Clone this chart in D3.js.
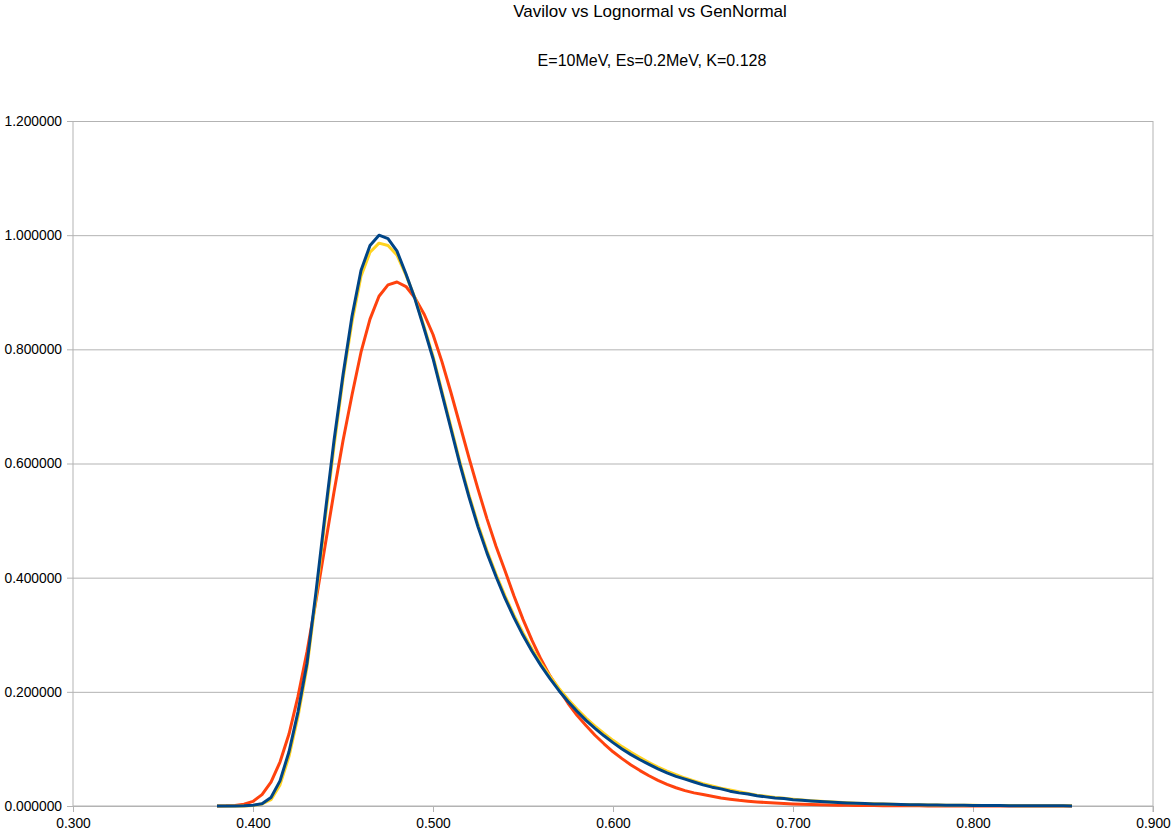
<!DOCTYPE html>
<html>
<head>
<meta charset="utf-8">
<script src="https://cdn.jsdelivr.net/npm/d3@7"></script>
<style>
  body { margin: 0; background: #fff; }
  text { font-family: "Liberation Sans", Arial, sans-serif; fill: #000; }
  .grid line { stroke: #b3b3b3; stroke-width: 1; }
  .line { fill: none; stroke-width: 3; stroke-linejoin: round; }
</style>
</head>
<body>
<div class="chart"></div>
<script>
// energies (MeV) of each sample
var energies = [0.380, 0.385, 0.390, 0.395, 0.400, 0.405, 0.410, 0.415, 0.420, 0.425,
    0.430, 0.435, 0.440, 0.445, 0.450, 0.455, 0.460, 0.465, 0.470, 0.475,
    0.480, 0.485, 0.490, 0.495, 0.500, 0.505, 0.510, 0.515, 0.520, 0.525,
    0.530, 0.535, 0.540, 0.545, 0.550, 0.555, 0.560, 0.565, 0.570, 0.575,
    0.580, 0.585, 0.590, 0.595, 0.600, 0.605, 0.610, 0.615, 0.620, 0.625,
    0.630, 0.635, 0.640, 0.645, 0.650, 0.655, 0.660, 0.665, 0.670, 0.675,
    0.680, 0.685, 0.690, 0.695, 0.700, 0.705, 0.710, 0.715, 0.720, 0.725,
    0.730, 0.735, 0.740, 0.745, 0.750, 0.755, 0.760, 0.765, 0.770, 0.775,
    0.780, 0.785, 0.790, 0.795, 0.800, 0.805, 0.810, 0.815, 0.820, 0.825,
    0.830, 0.835, 0.840, 0.845, 0.850, 0.855];

var vavilov = [0.0000, 0.0000, 0.0001, 0.0004, 0.0015, 0.0040, 0.0150, 0.0440, 0.0950, 0.1650,
    0.2500, 0.3750, 0.5100, 0.6400, 0.7550, 0.8580, 0.9380, 0.9820, 1.0000, 0.9940,
    0.9720, 0.9320, 0.8880, 0.8370, 0.7840, 0.7220, 0.6600, 0.5980, 0.5410, 0.4890,
    0.4430, 0.4020, 0.3640, 0.3300, 0.2990, 0.2710, 0.2460, 0.2230, 0.2020, 0.1830,
    0.1660, 0.1500, 0.1360, 0.1230, 0.1110, 0.1000, 0.0900, 0.0810, 0.0730, 0.0650,
    0.0580, 0.0520, 0.0470, 0.0420, 0.0370, 0.0330, 0.0300, 0.0260, 0.0230, 0.0210,
    0.0180, 0.0160, 0.0140, 0.0130, 0.0110, 0.0100, 0.0088, 0.0078, 0.0069, 0.0061,
    0.0054, 0.0048, 0.0042, 0.0037, 0.0033, 0.0029, 0.0026, 0.0023, 0.0020, 0.0018,
    0.0016, 0.0014, 0.0012, 0.0011, 0.0010, 0.0009, 0.0008, 0.0007, 0.0006, 0.0005,
    0.0005, 0.0004, 0.0004, 0.0003, 0.0003, 0.0002];

var lognormal = [0.0000, 0.0003, 0.0010, 0.0030, 0.0080, 0.0200, 0.0420, 0.0770, 0.1260, 0.1920,
    0.2700, 0.3600, 0.4550, 0.5500, 0.6400, 0.7200, 0.7950, 0.8530, 0.8930, 0.9130,
    0.9180, 0.9100, 0.8900, 0.8620, 0.8260, 0.7780, 0.7240, 0.6670, 0.6100, 0.5550,
    0.5030, 0.4550, 0.4120, 0.3680, 0.3270, 0.2900, 0.2570, 0.2280, 0.2040, 0.1800,
    0.1590, 0.1410, 0.1240, 0.1090, 0.0950, 0.0830, 0.0720, 0.0620, 0.0530, 0.0450,
    0.0380, 0.0320, 0.0270, 0.0230, 0.0200, 0.0170, 0.0140, 0.0120, 0.0100, 0.0085,
    0.0072, 0.0061, 0.0051, 0.0043, 0.0036, 0.0030, 0.0025, 0.0021, 0.0018, 0.0015,
    0.0012, 0.0010, 0.0008, 0.0007, 0.0006, 0.0005, 0.0004, 0.0003, 0.0003, 0.0002,
    0.0002, 0.0002, 0.0001, 0.0001, 0.0001, 0.0001, 0.0001, 0.0000, 0.0000, 0.0000,
    0.0000, 0.0000, 0.0000, 0.0000, 0.0000, 0.0000];

var genNormal = [0.0000, 0.0000, 0.0000, 0.0002, 0.0010, 0.0035, 0.0110, 0.0370, 0.0870, 0.1570,
    0.2430, 0.3660, 0.5000, 0.6300, 0.7480, 0.8480, 0.9280, 0.9700, 0.9860, 0.9820,
    0.9650, 0.9300, 0.8900, 0.8400, 0.7880, 0.7260, 0.6640, 0.6020, 0.5450, 0.4930,
    0.4470, 0.4060, 0.3680, 0.3340, 0.3030, 0.2750, 0.2500, 0.2270, 0.2060, 0.1870,
    0.1700, 0.1540, 0.1400, 0.1270, 0.1150, 0.1040, 0.0940, 0.0850, 0.0760, 0.0680,
    0.0610, 0.0550, 0.0490, 0.0440, 0.0390, 0.0350, 0.0310, 0.0280, 0.0250, 0.0220,
    0.0190, 0.0170, 0.0150, 0.0135, 0.0120, 0.0105, 0.0093, 0.0082, 0.0073, 0.0065,
    0.0057, 0.0050, 0.0044, 0.0039, 0.0035, 0.0031, 0.0027, 0.0024, 0.0021, 0.0019,
    0.0017, 0.0015, 0.0013, 0.0012, 0.0011, 0.0010, 0.0009, 0.0008, 0.0007, 0.0006,
    0.0005, 0.0005, 0.0004, 0.0004, 0.0003, 0.0003];

var xTicks = [0.3, 0.4, 0.5, 0.6, 0.7, 0.8, 0.9];
var yTicks = [0, 0.2, 0.4, 0.6, 0.8, 1.0, 1.2];

var title = "Vavilov vs Lognormal vs GenNormal";
var subtitle = "E=10MeV, Es=0.2MeV, K=0.128";

var margin = {top: 121, right: 18, bottom: 27, left: 73},
    width = 1171 - margin.left - margin.right,
    height = 833 - margin.top - margin.bottom;

var x = d3.scaleLinear().domain([0.3, 0.9]).range([0, width]);
var y = d3.scaleLinear().domain([0, 1.2]).range([height, 0]);

var root = d3.select(".chart").append("svg")
    .attr("width", 1171)
    .attr("height", 833);

root.append("text")
    .attr("x", 650).attr("y", 17)
    .attr("text-anchor", "middle")
    .style("font-size", "17px")
    .text(title);

root.append("text")
    .attr("x", 652).attr("y", 66)
    .attr("text-anchor", "middle")
    .style("font-size", "16px")
    .text(subtitle);

var svg = root.append("g")
    .attr("transform", "translate(" + margin.left + "," + margin.top + ")");

// horizontal gridlines + left axis
var yAxis = svg.append("g").classed("grid", true)
    .call(d3.axisLeft(y).tickValues(yTicks).tickSize(-width).tickPadding(11)
        .tickFormat(d3.format(".6f")));
yAxis.select(".domain").remove();
yAxis.selectAll(".tick line").attr("x1", -6);
yAxis.selectAll("text").style("font-size", "13.8px");
yAxis.append("line")
    .attr("x1", 0).attr("x2", 0).attr("y1", 0).attr("y2", height);

// bottom axis
var xAxis = svg.append("g").classed("grid", true)
    .attr("transform", "translate(0," + height + ")")
    .call(d3.axisBottom(x).tickValues(xTicks).tickSize(6).tickPadding(6)
        .tickFormat(d3.format(".3f")));
xAxis.select(".domain").remove();
xAxis.selectAll("text").style("font-size", "13.8px");
xAxis.append("line")
    .attr("x1", 0).attr("x2", width).attr("y1", 0).attr("y2", 0);
// right border at 0.9
svg.append("g").classed("grid", true).append("line")
    .attr("x1", x(0.9)).attr("x2", x(0.9)).attr("y1", 0).attr("y2", height + 6);

var series = [
    {name: "Lognormal", values: lognormal, color: "#ff420e"},
    {name: "GenNormal", values: genNormal, color: "#ffd320"},
    {name: "Vavilov", values: vavilov, color: "#004586"}
];

var valueline = d3.line()
    .x(function (d, i) { return x(energies[i]); })
    .y(function (d) { return y(d); });

svg.selectAll("path.line")
    .data(series)
    .enter()
    .append("path")
    .attr("class", "line")
    .attr("stroke", function (d) { return d.color; })
    .attr("d", function (d) { return valueline(d.values); });
</script>
</body>
</html>
